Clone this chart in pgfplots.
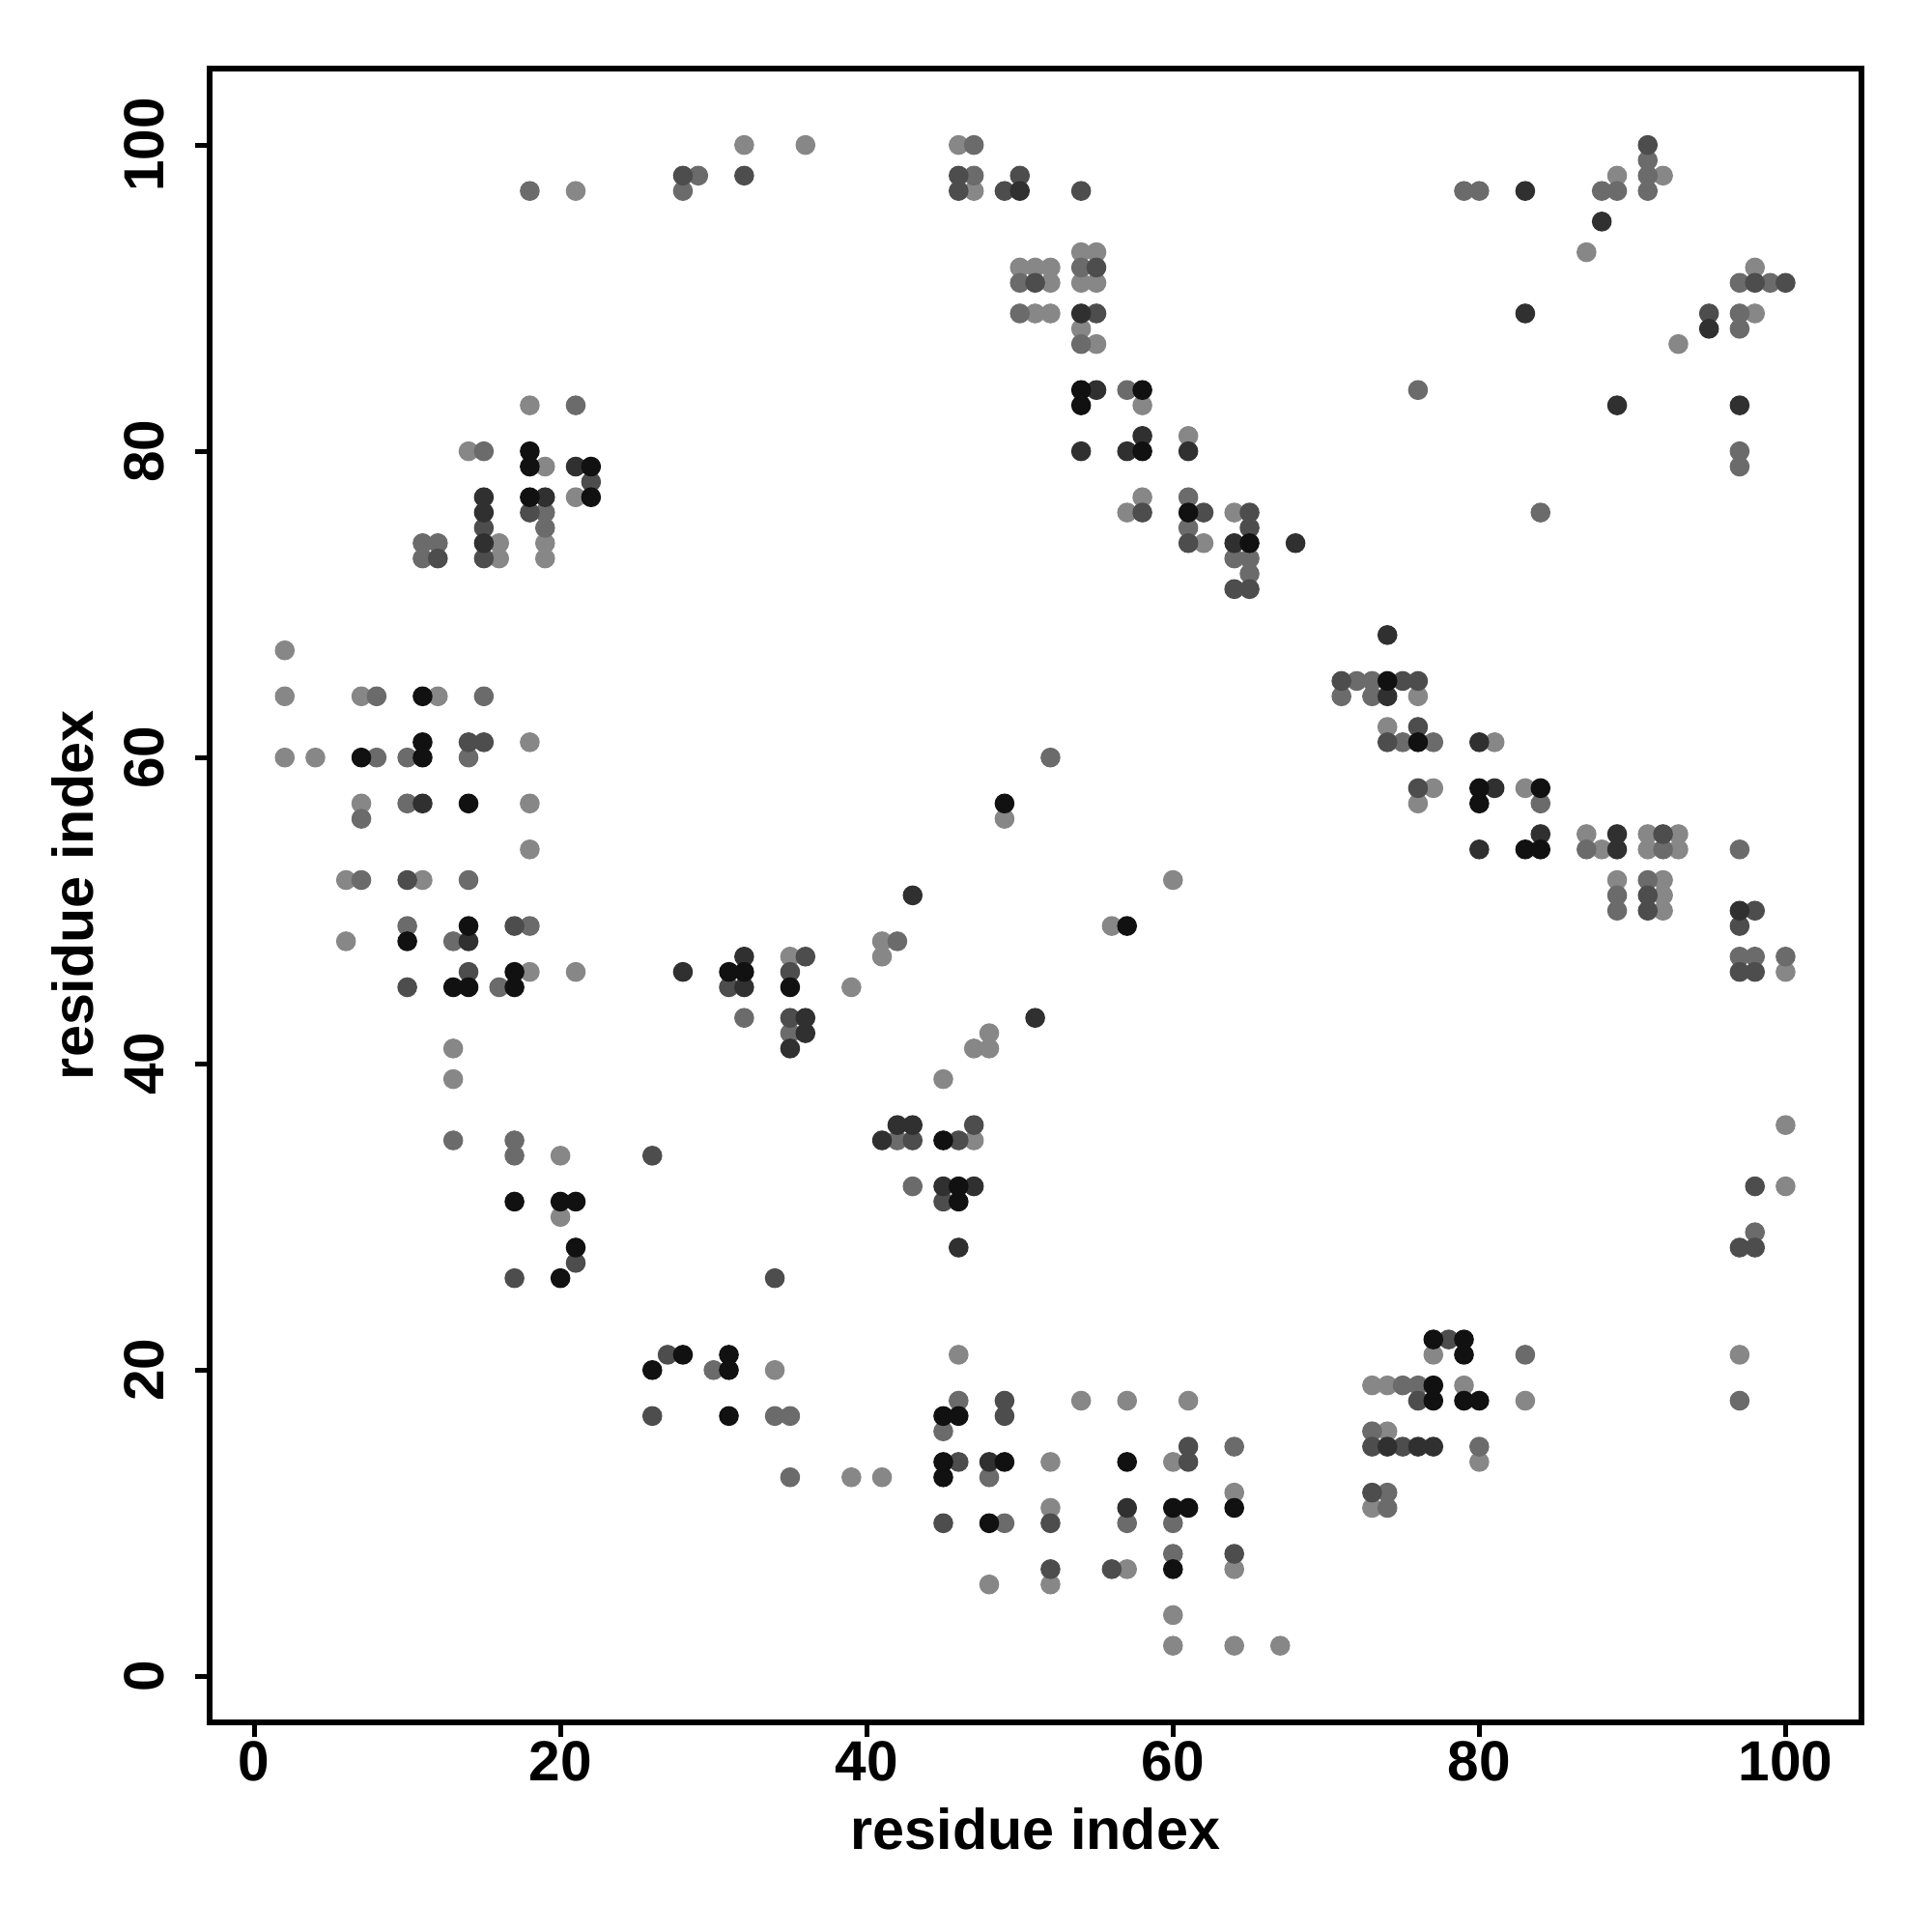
\documentclass[border=0pt]{standalone}
\usepackage{fontspec}
\setmainfont{Liberation Sans}
\usepackage{pgfplots}
\pgfplotsset{compat=1.18}
\definecolor{cK}{HTML}{111111}
\definecolor{cD}{HTML}{303030}
\definecolor{cM}{HTML}{4D4D4D}
\definecolor{cS}{HTML}{6B6B6B}
\definecolor{cL}{HTML}{878787}
\begin{document}
\begin{tikzpicture}
\begin{axis}[
  width=15.20cm, height=15.22cm, scale only axis,
  xmin=-2.9, xmax=104.95, ymin=-3, ymax=105,
  xtick={0,20,...,100}, ytick={0,20,...,100},
  xtick pos=left, ytick pos=left,
  tick align=outside, major tick length=0.135cm,
  tick style={line width=1.3pt, black},
  axis line style={line width=1.4pt},
  /pgf/number format/assume math mode=true,
  ticklabel style={font=\fontsize{14.8}{17}\selectfont\bfseries},
  yticklabel style={rotate=90, anchor=south},
  xticklabel shift=-0.08cm,
  yticklabel shift=0.16cm,
  xlabel={residue index}, ylabel={residue index},
  label style={font=\fontsize{15}{18}\selectfont\bfseries},
  xlabel style={at={(axis description cs:0.5,-0.0645)}, anchor=center},
  ylabel style={at={(axis description cs:-0.0830,0.5)}, anchor=center},
  every axis plot/.append style={only marks, mark=*, mark size=2.4pt},
]
\addplot[color=cL] coordinates {(32,100)(21,97)(18,83)(14,80)(19,79)(21,77)(16,74)(19,74)(16,73)(19,73)(2,67)(2,64)(7,64)(12,64)(18,61)(2,60)(4,60)(7,57)(18,57)(18,54)(6,52)(11,52)(6,48)(18,46)(21,46)(13,41)(13,39)(20,34)(20,30)(34,20)(39,13)(41,13)(46,21)(54,18)(57,18)(61,18)(52,14)(60,14)(64,12)(52,11)(57,7)(64,7)(48,6)(52,6)(60,4)(60,2)(64,2)(67,2)(56,49)(41,48)(35,47)(41,47)(39,45)(48,42)(47,41)(48,41)(45,39)(47,35)(36,100)(46,100)(47,97)(54,93)(55,93)(50,92)(51,92)(52,92)(52,91)(54,91)(55,91)(51,89)(52,89)(54,88)(55,87)(58,83)(61,81)(58,77)(57,76)(64,76)(62,74)(49,56)(60,52)(89,98)(92,98)(87,93)(98,92)(98,89)(93,87)(76,64)(74,62)(81,61)(77,58)(83,58)(76,57)(87,55)(91,55)(93,55)(88,54)(91,54)(93,54)(89,52)(92,52)(92,51)(92,50)(100,46)(100,36)(100,32)(77,21)(97,21)(73,19)(74,19)(79,19)(83,18)(74,16)(80,14)(73,11)};
\addplot[color=cS] coordinates {(29,98)(28,97)(18,97)(21,83)(15,80)(19,76)(19,75)(11,74)(12,74)(11,73)(8,64)(15,64)(8,60)(10,60)(14,60)(10,57)(7,56)(7,52)(14,52)(10,49)(18,49)(13,48)(16,45)(32,43)(13,35)(17,35)(17,34)(30,20)(34,17)(35,17)(35,13)(46,18)(45,16)(64,15)(48,13)(49,10)(57,10)(60,10)(60,8)(42,48)(35,42)(42,35)(43,32)(47,100)(47,98)(54,92)(50,91)(50,89)(54,87)(57,84)(61,77)(61,75)(64,73)(65,73)(65,72)(52,60)(91,99)(91,98)(79,97)(80,97)(88,97)(89,97)(91,97)(97,91)(99,91)(97,89)(97,88)(76,84)(97,80)(97,79)(84,76)(72,65)(73,65)(71,64)(73,64)(75,61)(77,61)(84,57)(87,54)(92,54)(97,54)(91,52)(89,51)(89,50)(97,47)(98,47)(100,47)(98,29)(83,21)(75,19)(76,19)(97,18)(73,16)(80,15)(74,12)(74,11)};
\addplot[color=cM] coordinates {(28,98)(32,98)(22,78)(18,76)(15,75)(12,73)(15,73)(14,61)(15,61)(10,52)(17,49)(14,46)(10,45)(31,45)(26,34)(21,27)(17,26)(34,26)(27,21)(26,17)(49,18)(49,17)(61,15)(46,14)(61,14)(45,10)(52,10)(64,8)(52,7)(56,7)(36,47)(35,46)(35,43)(47,36)(43,35)(46,35)(45,31)(46,98)(50,98)(46,97)(49,97)(54,97)(55,92)(51,91)(55,89)(58,76)(62,76)(65,76)(65,75)(61,74)(64,71)(65,71)(91,100)(98,91)(100,91)(95,89)(71,65)(75,65)(76,65)(76,62)(74,61)(76,58)(92,55)(91,51)(91,50)(98,50)(97,49)(97,46)(98,46)(98,32)(97,28)(98,28)(78,22)(76,18)(73,15)(75,15)(73,12)};
\addplot[color=cD] coordinates {(21,79)(15,77)(19,77)(15,76)(15,74)(11,57)(14,48)(32,47)(28,46)(32,45)(48,14)(57,11)(43,51)(36,43)(51,43)(36,42)(35,41)(42,36)(43,36)(41,35)(45,32)(47,32)(46,28)(50,97)(54,89)(55,84)(58,81)(54,80)(57,80)(61,80)(64,74)(68,74)(83,97)(88,95)(83,89)(95,88)(89,83)(97,83)(74,68)(74,64)(80,61)(81,58)(84,55)(89,55)(80,54)(89,54)(97,50)(74,15)(76,15)(77,15)};
\addplot[color=cK] coordinates {(18,80)(18,79)(22,79)(18,77)(22,77)(11,64)(11,61)(7,60)(11,60)(14,57)(14,49)(10,48)(17,46)(31,46)(32,46)(13,45)(14,45)(17,45)(17,31)(20,31)(21,31)(21,28)(20,26)(28,21)(31,21)(26,20)(31,20)(31,17)(45,17)(46,17)(45,14)(49,14)(57,14)(45,13)(60,11)(61,11)(64,11)(48,10)(60,7)(57,49)(35,45)(45,35)(46,32)(46,31)(54,84)(58,84)(54,83)(58,80)(61,76)(65,74)(49,57)(74,65)(76,61)(80,58)(84,58)(80,57)(83,54)(84,54)(77,22)(79,22)(79,21)(77,19)(77,18)(79,18)(80,18)};
\end{axis}
\path ([xshift=-1.93cm,yshift=-1.93cm]current axis.south west) rectangle ([xshift=0.65cm,yshift=0.63cm]current axis.north east);
\end{tikzpicture}
\end{document}
